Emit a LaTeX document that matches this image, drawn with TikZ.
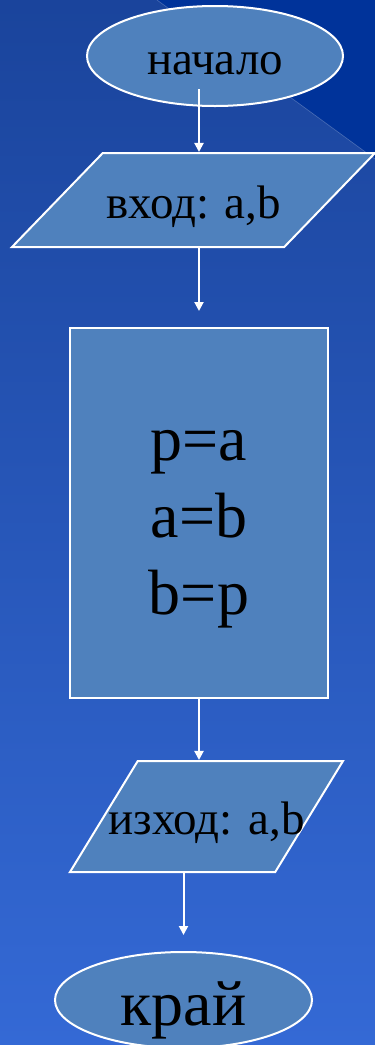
\documentclass[tikz,border=0pt]{standalone}
\usepackage{fontspec}
\setmainfont{Liberation Serif}
\usetikzlibrary{arrows.meta,shapes.geometric,calc}
\definecolor{bgtop}{HTML}{1A449C}
\definecolor{bgmid}{HTML}{1C50BE}
\definecolor{bgbottom}{HTML}{3469D5}
\definecolor{wedge}{HTML}{00339A}
\definecolor{boxfill}{HTML}{4F81BD}
\newcommand{\fsmall}{\fontsize{47}{56}\selectfont}
\newcommand{\fbig}{\fontsize{64}{77}\selectfont}

\begin{document}
\begin{tikzpicture}[x=1pt,y=-1pt,
 terminal/.style={ellipse,draw=white,fill=boxfill,line width=2pt,inner sep=0pt},
 iobox/.style={trapezium,trapezium stretches body,draw=white,fill=boxfill,line width=2pt,inner xsep=0pt,font=\fsmall,text height=36pt,text depth=0pt},
 procbox/.style={rectangle,draw=white,fill=boxfill,line width=2pt,align=center,font=\fbig},
 flow/.style={-{Triangle[width=9pt,length=9pt]},draw=white,line width=2pt}
]
\useasboundingbox (0,0) rectangle (375,1045);
% background
\shade[top color=bgtop,middle color=bgmid,bottom color=bgbottom] (0,0) rectangle (375,1045);
\fill[wedge] (157,0) -- (375,0) -- (375,159) -- cycle;
\draw[white,opacity=0.25,line width=0.6pt] (157,0) -- (375,159);
% blocks
\node[terminal,minimum width=256pt,minimum height=100pt,font=\fsmall,text height=36pt,text depth=0pt] (start) at (215,56) {начало};
\node[iobox,minimum width=363pt,inner ysep=29pt,trapezium left angle=46,trapezium right angle=134] (in) at (193.5,200) {вход: a,b};
\node[procbox,minimum width=258pt,minimum height=370pt] (proc) at (199,513) {\rule{0pt}{62pt}p=a\\a=b\\b=p};
\node[iobox,minimum width=273pt,inner xsep=-32pt,inner ysep=37.5pt,trapezium left angle=58.6,trapezium right angle=121.4] (out) at (206.5,816.5) {изход: a,b};
\node[terminal,minimum width=257pt,minimum height=96pt,font=\fbig,text height=50pt,text depth=0pt] (stop) at (183.5,1000) {край};
% arrows
\draw[flow] ([xshift=-16pt,yshift=-33pt]start.center) -- ([xshift=-16pt]start.center |- in.north);
\draw[flow] (in.south -| proc.north) -- ([yshift=16pt]proc.north);
\draw[flow] (proc.south) -- (proc.south |- out.north);
\draw[flow] (out.south -| stop.north) -- ([yshift=16pt]stop.north);
\end{tikzpicture}
\end{document}
